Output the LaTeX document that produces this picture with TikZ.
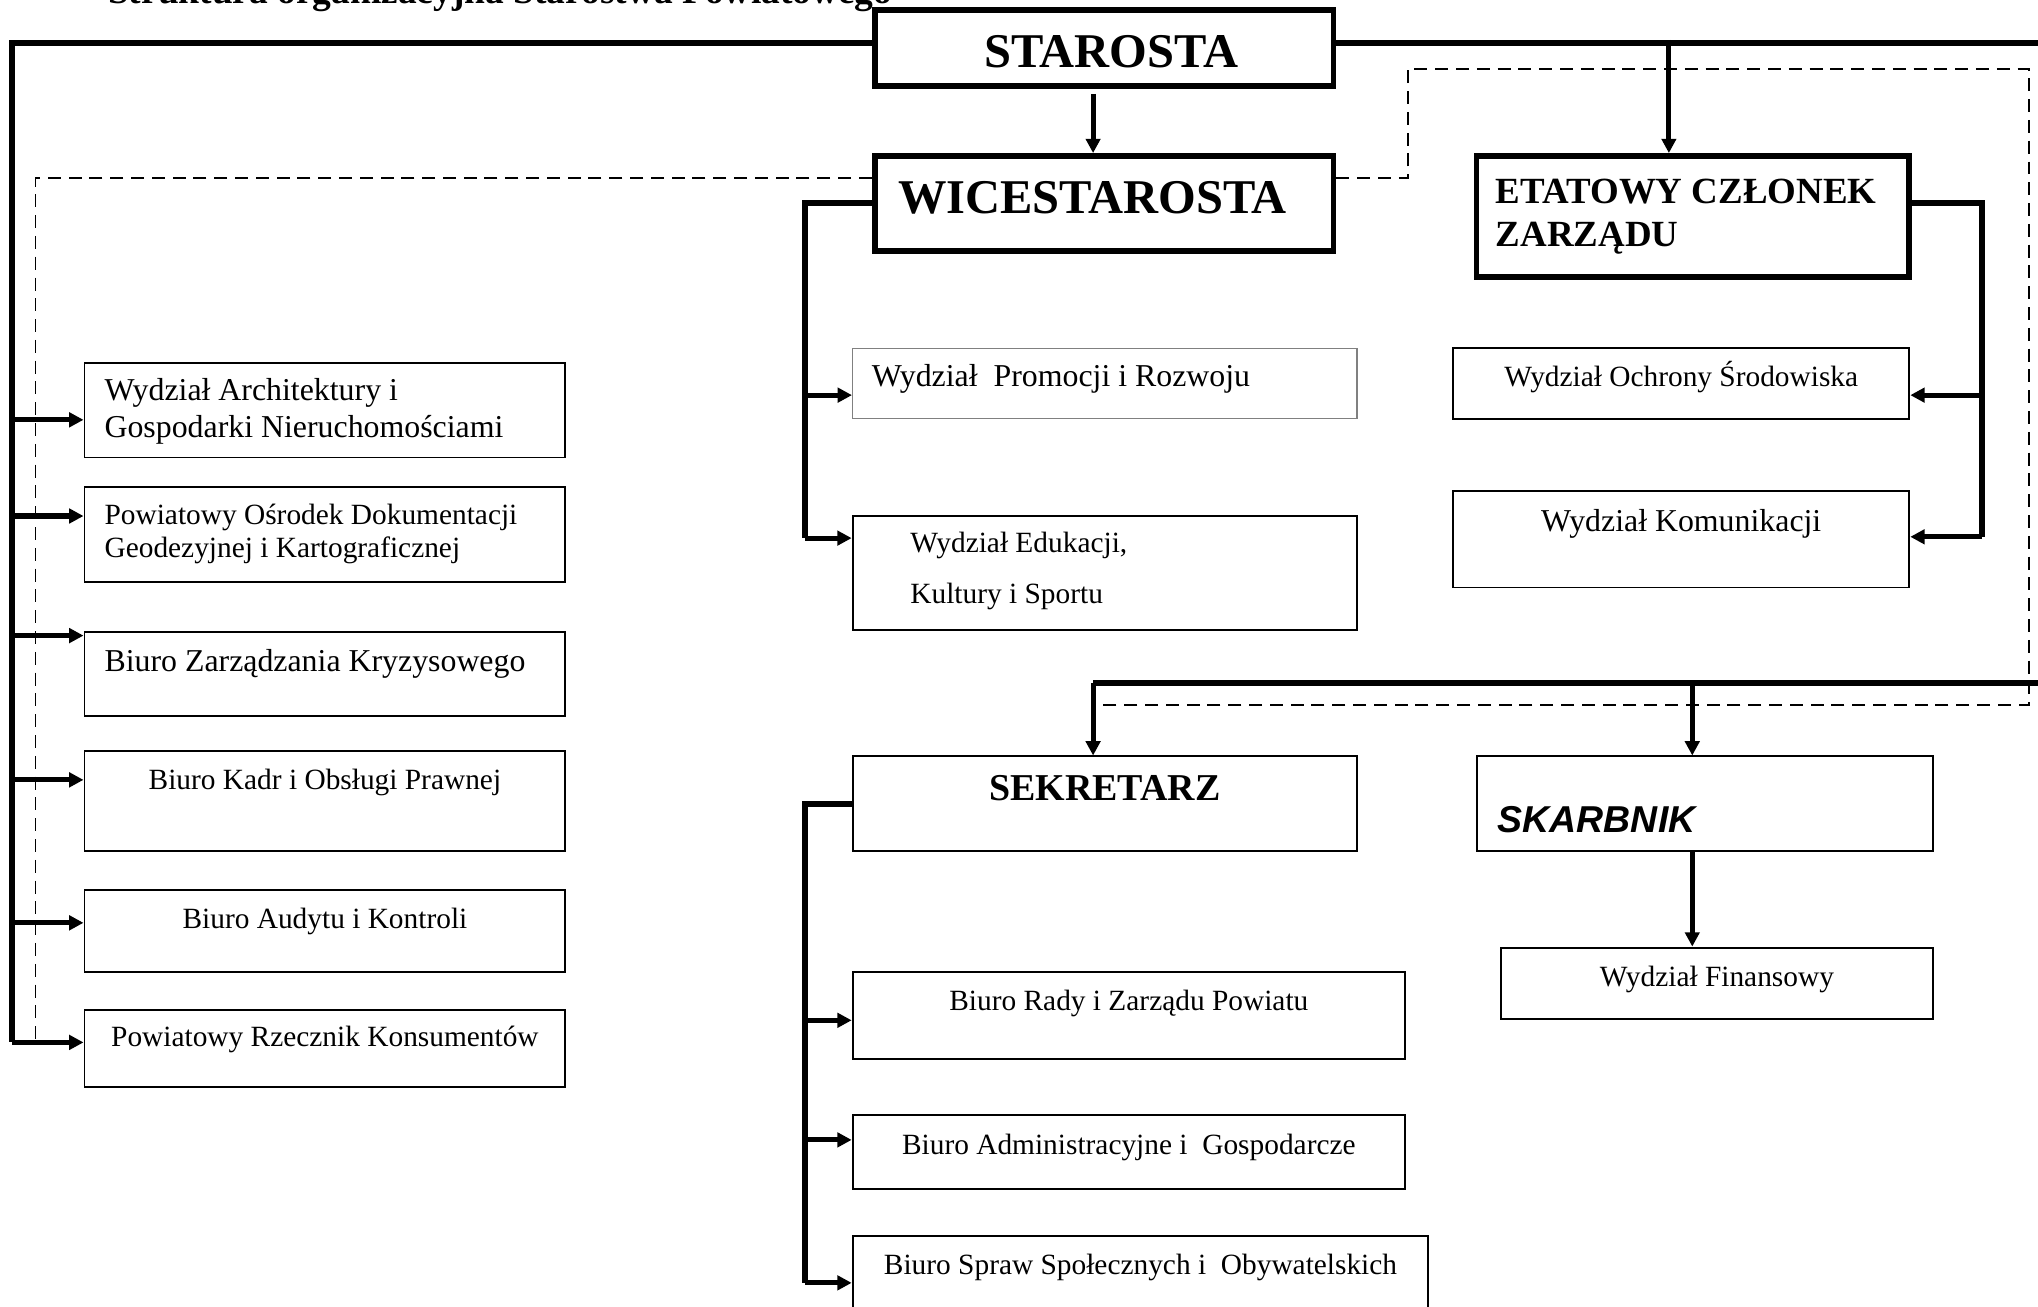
\documentclass[tikz,border=0pt]{standalone}
\usepackage{fontspec}
\setmainfont{Liberation Serif}
\newfontfamily\arialfont{Liberation Sans}
\usetikzlibrary{arrows.meta}

\begin{document}
\begin{tikzpicture}[x=1pt,y=-1pt]
\begin{scope}
\tikzstyle{unit} = [rectangle,draw,line width=1.5pt,inner sep=0pt]
\tikzstyle{head} = [rectangle,draw,line width=4.5pt,inner sep=0pt]
\tikzstyle{word} = [inner sep=0pt,font=\fontsize{22.6}{26}\selectfont]
\tikzstyle{wordl} = [inner sep=0pt,font=\fontsize{24.5}{28}\selectfont]
\tikzstyle{big} = [inner sep=0pt,font=\fontsize{37.3}{42}\selectfont\bfseries]
\tikzstyle{bus} = [line width=4.5pt]
\tikzstyle{arr} = [line width=4pt,-{Triangle[length=11pt,width=11pt]}]
\tikzstyle{link} = [line width=1.3pt,dash pattern=on 10pt off 6pt]

\useasboundingbox (0,0) rectangle (1568,1005);

\node [anchor=base west,inner sep=0pt,font=\fontsize{28.8}{34}\selectfont\bfseries] (title) at (83,3) {Struktura organizacyjna Starostwa Powiatowego};

%board
\node [head,minimum width=353pt,minimum height=58pt] (starosta) at (849.5,37) {};
\node [big,anchor=base] (starosta-t) at ([xshift=5.5pt,yshift=-15pt]starosta.center) {STAROSTA};
\node [head,minimum width=353pt,minimum height=73pt] (wice) at (849.5,156.5) {};
\node [big,anchor=base west] (wice-t) at ([xshift=20pt,yshift=-7.5pt]wice.west) {WICESTAROSTA};
\node [head,minimum width=333pt,minimum height=93pt] (etat) at (1302.5,166.5) {};
\node [anchor=base west,align=left,inner sep=0pt,font=\fontsize{28.4}{33.5}\selectfont\bfseries] (etat-t) at ([xshift=17pt,yshift=-72pt]etat.north west) {ETATOWY CZŁONEK\\ZARZĄDU};

%left column
\node [unit,minimum width=370pt,minimum height=73pt] (l1) at (250,315.5) {};
\node [wordl,anchor=base west,align=left] (l1-t) at ([xshift=16pt,yshift=-58pt]l1.north west) {Wydział Architektury i\\Gospodarki Nieruchomościami};
\node [unit,minimum width=370pt,minimum height=73pt] (l2) at (250,411.5) {};
\node [word,anchor=base west,align=left] (l2-t) at ([xshift=16pt,yshift=-55pt]l2.north west) {Powiatowy Ośrodek Dokumentacji\\Geodezyjnej i Kartograficznej};
\node [unit,minimum width=370pt,minimum height=65pt] (l3) at (250,518.5) {};
\node [wordl,anchor=base west] (l3-t) at ([xshift=16pt,yshift=-31pt]l3.north west) {Biuro Zarządzania Kryzysowego};
\node [unit,minimum width=370pt,minimum height=77pt] (l4) at (250,616.5) {};
\node [word,anchor=base] (l4-t) at ([yshift=-30pt]l4.north) {Biuro Kadr i Obsługi Prawnej};
\node [unit,minimum width=370pt,minimum height=63pt] (l5) at (250,716.5) {};
\node [word,anchor=base] (l5-t) at ([yshift=-30pt]l5.north) {Biuro Audytu i Kontroli};
\node [unit,minimum width=370pt,minimum height=59pt] (l6) at (250,806.5) {};
\node [word,anchor=base] (l6-t) at ([yshift=-29pt]l6.north) {Powiatowy Rzecznik Konsumentów};

%wicestarosta
\node [unit,draw=gray,line width=1pt,minimum width=388pt,minimum height=54pt] (w1) at (850,295) {};
\node [wordl,anchor=base west] (w1-t) at ([xshift=15pt,yshift=-30pt]w1.north west) {Wydział\ \ Promocji i Rozwoju};
\node [unit,minimum width=388pt,minimum height=88pt] (w2) at (850,441) {};
\node [word,anchor=base west,align=left,font=\fontsize{22.6}{39}\selectfont] (w2-t) at ([xshift=45pt,yshift=-68pt]w2.north west) {Wydział Edukacji,\\Kultury i Sportu};

%etatowy
\node [unit,minimum width=351pt,minimum height=54pt] (e1) at (1293.5,295) {};
\node [word,anchor=base] (e1-t) at ([yshift=-30pt]e1.north) {Wydział Ochrony Środowiska};
\node [unit,minimum width=351pt,minimum height=74pt] (e2) at (1293.5,415) {};
\node [wordl,anchor=base] (e2-t) at ([yshift=-32pt]e2.north) {Wydział Komunikacji};

%sekretarz
\node [unit,minimum width=388pt,minimum height=73pt] (sekr) at (850,618.5) {};
\node [anchor=base,inner sep=0pt,font=\fontsize{29.2}{34}\selectfont\bfseries] (sekr-t) at ([yshift=-35pt]sekr.north) {SEKRETARZ};
\node [unit,minimum width=425pt,minimum height=67pt] (s1) at (868.5,781.5) {};
\node [word,anchor=base] (s1-t) at ([yshift=-30pt]s1.north) {Biuro Rady i Zarządu Powiatu};
\node [unit,minimum width=425pt,minimum height=57pt] (s2) at (868.5,886.5) {};
\node [word,anchor=base] (s2-t) at ([yshift=-31pt]s2.north) {Biuro Administracyjne i\ \ Gospodarcze};
\node [unit,minimum width=443pt,minimum height=79pt] (s3) at (877.5,990.5) {};
\node [word,anchor=base] (s3-t) at ([yshift=-30pt]s3.north) {Biuro Spraw Społecznych i\ \ Obywatelskich};

%skarbnik
\node [unit,minimum width=351pt,minimum height=73pt] (skarb) at (1311.5,618.5) {};
\node [anchor=base west,inner sep=0pt,font=\arialfont\fontsize{28.8}{34}\selectfont\bfseries\itshape] (skarb-t) at ([xshift=17pt,yshift=-59pt]skarb.north west) {SKARBNIK};
\node [unit,minimum width=332pt,minimum height=55pt] (fin) at (1321,756.5) {};
\node [word,anchor=base] (fin-t) at ([yshift=-31pt]fin.north) {Wydział Finansowy};

%lines
\draw [bus] ([yshift=4pt]starosta.west) -| ([xshift=-55pt,yshift=4.5pt]l6.west);
\draw [arr] ([xshift=-55pt,yshift=-7.5pt]l1.west) -- ([yshift=-7.5pt]l1.west);
\draw [arr] ([xshift=-55pt,yshift=14.5pt]l2.west) -- ([yshift=14.5pt]l2.west);
\draw [arr] ([xshift=-55pt,yshift=29.5pt]l3.west) -- ([yshift=29.5pt]l3.west);
\draw [arr] ([xshift=-55pt,yshift=16.5pt]l4.west) -- ([yshift=16.5pt]l4.west);
\draw [arr] ([xshift=-55pt,yshift=6.5pt]l5.west) -- ([yshift=6.5pt]l5.west);
\draw [arr] ([xshift=-55pt,yshift=4.5pt]l6.west) -- ([yshift=4.5pt]l6.west);

\draw [arr] ([xshift=-8.5pt,yshift=-4pt]starosta.south) -- ([xshift=-8.5pt]wice.north);
\draw [bus] ([yshift=4pt]starosta.east) -- ++(580,0) |- ([xshift=-9pt,yshift=56pt]sekr.north);
\draw [arr] ([xshift=-18.5pt,yshift=87pt]etat.north) -- ([xshift=-18.5pt]etat.north);
\draw [arr] ([xshift=-9pt,yshift=56pt]sekr.north) -- ([xshift=-9pt]sekr.north);
\draw [arr] ([xshift=-9.5pt,yshift=56pt]skarb.north) -- ([xshift=-9.5pt]skarb.north);

\draw [bus] (wice.west) -| ([xshift=-36pt,yshift=27pt]w2.west);
\draw [arr] ([xshift=-36pt,yshift=-9pt]w1.west) -- ([yshift=-9pt]w1.west);
\draw [arr] ([xshift=-36pt,yshift=27pt]w2.west) -- ([yshift=27pt]w2.west);

\draw [bus] ([yshift=10.5pt]etat.east) -| ([xshift=55pt,yshift=2pt]e2.east);
\draw [arr] ([xshift=55pt,yshift=-9pt]e1.east) -- ([yshift=-9pt]e1.east);
\draw [arr] ([xshift=55pt,yshift=2pt]e2.east) -- ([yshift=2pt]e2.east);

\draw [bus] (sekr.west) -| ([xshift=-36pt,yshift=3.5pt]s3.west);
\draw [arr] ([xshift=-36pt,yshift=-3.5pt]s1.west) -- ([yshift=-3.5pt]s1.west);
\draw [arr] ([xshift=-36pt,yshift=9.5pt]s2.west) -- ([yshift=9.5pt]s2.west);
\draw [arr] ([xshift=-36pt,yshift=3.5pt]s3.west) -- ([yshift=3.5pt]s3.west);

\draw [arr] ([xshift=-9.5pt]skarb.south) -- ([xshift=-19pt]fin.north);

%dashed
\draw [link] ([yshift=19.5pt]wice.west) -| ([xshift=-37pt,yshift=4.5pt]l6.west);
\draw [link] ([yshift=19.5pt]wice.east) -- ++(55,0) |- (1561,53) |- ([xshift=-9pt,yshift=39pt]sekr.north);
\end{scope}
\end{tikzpicture}
\end{document}
